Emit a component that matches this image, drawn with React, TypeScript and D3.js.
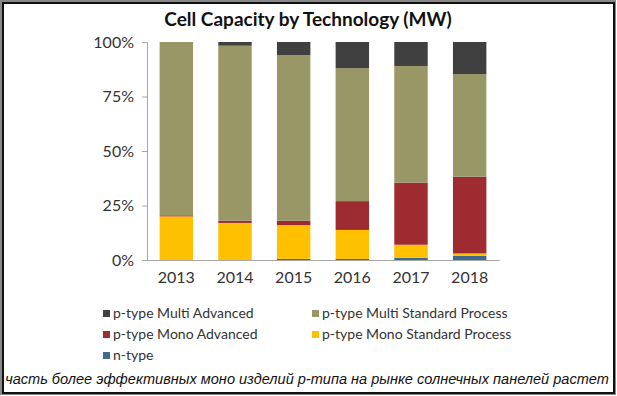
import React, { useEffect } from 'react';
import * as d3 from 'd3';

const years = ['2013', '2014', '2015', '2016', '2017', '2018'];

// shares in %, bottom to top
const nType = [0, 0, 0.5, 0.5, 1, 2];
const monoStandard = [20, 17, 15.5, 13.3, 6, 1];
const monoAdvanced = [0.5, 1, 2, 13.2, 28.5, 35.2];
const multiStandard = [79.5, 80.3, 76, 61, 53.5, 47.1];
const multiAdvanced = [0, 1.7, 6, 12, 11, 14.7];

const yTicks = [0, 25, 50, 75, 100];

const seriesNames = [
  'n-type',
  'p-type Mono Standard Process',
  'p-type Mono Advanced',
  'p-type Multi Standard Process',
  'p-type Multi Advanced',
];

const legendOrder = [
  'p-type Multi Advanced',
  'p-type Multi Standard Process',
  'p-type Mono Advanced',
  'p-type Mono Standard Process',
  'n-type',
];

const caption = 'часть более эффективных моно изделий p-типа на рынке солнечных панелей растет';

export default function App() {
  useEffect(() => {
    const width = 617;
    const height = 396;
    const margin = { top: 42, bottom: 136, left: 147, right: 118 };

    d3.select('#cell-capacity').selectAll('*').remove();

    const svg = d3
      .select('#cell-capacity')
      .append('svg')
      .attr('width', width)
      .attr('height', height)
      .style('position', 'absolute')
      .style('left', 0)
      .style('top', 0)
      .style('background', '#fff');

    const rows = years.map((year, i) => ({
      year,
      'n-type': nType[i],
      'p-type Mono Standard Process': monoStandard[i],
      'p-type Mono Advanced': monoAdvanced[i],
      'p-type Multi Standard Process': multiStandard[i],
      'p-type Multi Advanced': multiAdvanced[i],
    }));

    const color = d3
      .scaleOrdinal<string, string>()
      .domain(seriesNames)
      .range(['#3f6a8f', '#ffc000', '#9e2b2f', '#9a9767', '#404040']);

    const xScale = d3
      .scaleBand()
      .domain(years)
      .range([margin.left, width - margin.right])
      .paddingInner(0.43)
      .paddingOuter(0.215);

    const yScale = d3
      .scaleLinear()
      .domain([0, 100])
      .range([height - margin.bottom, margin.top]);

    const stacked = d3.stack<any>().keys(seriesNames)(rows);

    svg
      .append('g')
      .selectAll('g')
      .data(stacked)
      .enter()
      .append('g')
      .attr('fill', (d) => color(d.key))
      .selectAll('rect')
      .data((d) => d)
      .enter()
      .append('rect')
      .attr('x', (d: any) => xScale(d.data.year) as number)
      .attr('y', (d) => yScale(d[1]))
      .attr('width', xScale.bandwidth())
      .attr('height', (d) => yScale(d[0]) - yScale(d[1]));

    // y axis
    const yAxis = d3
      .axisLeft(yScale)
      .tickValues(yTicks)
      .tickSize(5)
      .tickFormat((d) => `${d}%`);

    const yg = svg
      .append('g')
      .attr('transform', `translate(${margin.left}, 0)`)
      .call(yAxis);
    yg.select('.domain').attr('stroke', '#a6a6a6');
    yg.selectAll('.tick line').attr('stroke', '#a6a6a6');
    yg.selectAll('.tick text')
      .attr('x', -13)
      .attr('fill', '#333')
      .style('font-family', 'Lato, sans-serif')
      .style('font-size', '16px');

    // x axis
    const xAxis = d3.axisBottom(xScale).tickSize(0).tickSizeOuter(0);
    const xg = svg
      .append('g')
      .attr('transform', `translate(0, ${height - margin.bottom})`)
      .call(xAxis);
    xg.select('.domain').attr('stroke', '#a6a6a6');
    xg.selectAll('.tick text')
      .attr('y', 12)
      .attr('fill', '#333')
      .style('font-family', 'Lato, sans-serif')
      .style('font-size', '16px');

    // title
    svg
      .append('text')
      .attr('x', 308)
      .attr('y', 26)
      .attr('text-anchor', 'middle')
      .attr('fill', '#111')
      .style('font-family', 'Lato, sans-serif')
      .style('font-weight', 'bold')
      .style('font-size', '19px')
      .text('Cell Capacity by Technology (MW)');

    // legend
    const legend = svg
      .append('g')
      .selectAll('g')
      .data(legendOrder)
      .enter()
      .append('g')
      .attr('transform', (d, i) => `translate(${i % 2 === 0 ? 103 : 312}, ${318 + Math.floor(i / 2) * 21})`);

    legend
      .append('rect')
      .attr('x', 0)
      .attr('y', -8)
      .attr('width', 7)
      .attr('height', 7)
      .attr('fill', (d) => color(d));

    legend
      .append('text')
      .attr('x', 10)
      .attr('y', 0)
      .attr('fill', '#333')
      .style('font-family', 'Lato, sans-serif')
      .style('font-size', '14px')
      .text((d) => d);

    // caption, shrunk to fit between the frame lines
    const cap = svg
      .append('text')
      .attr('x', 307)
      .attr('y', 384)
      .attr('text-anchor', 'middle')
      .attr('fill', '#111')
      .style('font-family', '"Liberation Sans", sans-serif')
      .style('font-style', 'italic')
      .style('font-size', '16px')
      .text(caption);
    const capWidth = (cap.node() as SVGTextElement).getComputedTextLength();
    if (capWidth > 604) cap.style('font-size', `${(16 * 604) / capWidth}px`);

    // frame
    svg
      .append('rect')
      .attr('x', 1)
      .attr('y', 1)
      .attr('width', width - 3)
      .attr('height', height - 3)
      .attr('fill', 'none')
      .attr('stroke', '#888')
      .attr('stroke-width', 2);
    svg
      .append('rect')
      .attr('x', 3)
      .attr('y', 3)
      .attr('width', width - 6)
      .attr('height', height - 6)
      .attr('fill', 'none')
      .attr('stroke', '#111')
      .attr('stroke-width', 2);
  }, []);

  return <div id="cell-capacity"></div>;
}
